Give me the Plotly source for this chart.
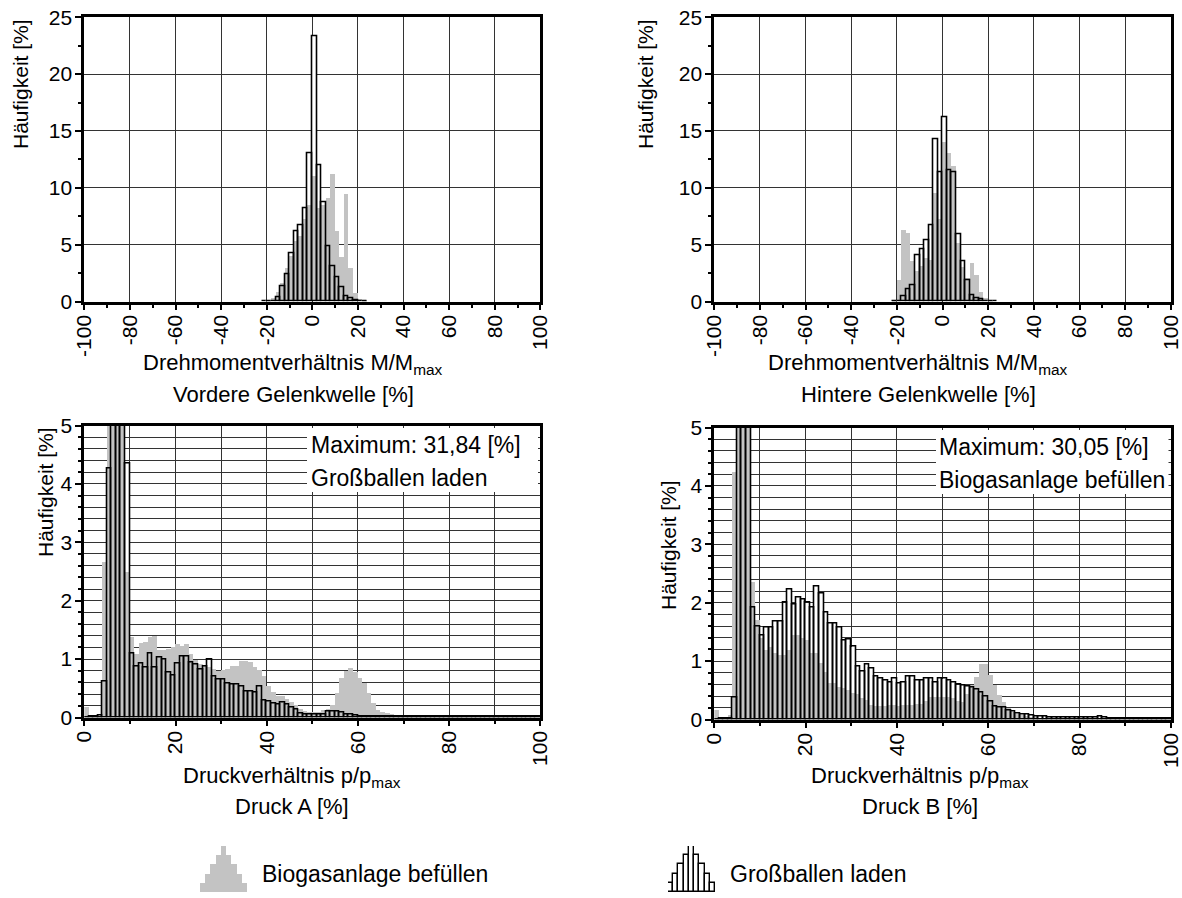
import plotly.graph_objects as go

W, H = 1182, 898

# ---------------- data ----------------
# top panels: bin width 2, centres
top_x = [-21, -19, -17, -15, -13, -11, -9, -7, -5, -3, -1, 1, 3, 5, 7, 9, 11, 13, 15, 17, 19, 21, 23]
tl_gross = [0, 0.0, 0.05, 0.35, 1.3, 2.4, 4.2, 6.2, 6.7, 8.2, 13.0, 23.3, 11.95, 8.7, 4.9, 3.1, 2.1, 1.24, 0.45, 0.25, 0.12, 0.05, 0]
tl_bio = [0, 0.1, 0.3, 0.8, 1.6, 2.9, 4.0, 5.3, 5.7, 7.2, 8.5, 11.0, 8.2, 8.5, 9.1, 11.2, 6.2, 3.9, 9.4, 2.9, 0.7, 0.2, 0.05]
tr_gross = [0, 0.05, 0.5, 1.05, 1.4, 4.1, 4.6, 5.4, 6.7, 14.3, 11.4, 16.2, 11.5, 11.4, 5.9, 3.5, 1.9, 0.55, 0.3, 0.15, 0.05, 0, 0]
tr_bio = [0.1, 1.9, 6.25, 6.0, 3.5, 2.7, 3.1, 3.8, 3.6, 9.5, 7.2, 14.0, 13.0, 11.9, 5.1, 3.0, 2.0, 3.4, 2.3, 0.8, 0.3, 0.1, 0]

# bottom panels: bin width 1, centres 0.5 .. 99.5
bot_x = [k + 0.5 for k in range(100)]
bl_gross = [0, 0.02, 0.02, 0.03, 0.61, 4.26, 14.0, 31.84, 9.5, 4.35,
            1.1, 0.875, 0.92, 0.86, 1.1, 0.85, 1.02, 1.0, 0.77, 0.72,
            0.92, 1.04, 1.04, 0.94, 0.9, 0.82, 0.88, 0.99, 0.7, 0.65,
            0.65, 0.58, 0.57, 0.56, 0.53, 0.44, 0.44, 0.43, 0.53, 0.29,
            0.28, 0.24, 0.22, 0.25, 0.23, 0.17, 0.14, 0.07, 0.05, 0.05,
            0.05, 0.05, 0.06, 0.1, 0.1, 0.1, 0.09, 0.06, 0.06, 0.03,
            0.02, 0.02, 0.02, 0.02, 0.02, 0.02, 0.02, 0.02, 0.02, 0.02,
            0.02, 0.02, 0.02, 0.02, 0.02, 0.02, 0.02, 0.02, 0.02, 0.02,
            0.02, 0.02, 0.02, 0.02, 0.02, 0.02, 0.02, 0.02, 0.02, 0.02,
            0.02, 0.02, 0.02, 0.02, 0.02, 0.02, 0.02, 0.02, 0.02, 0.02]
bl_bio = [0.18, 0.02, 0.02, 0.03, 2.67, 7.0, 20.0, 18.0, 6.0, 2.5,
          1.38, 1.1, 1.29, 1.3, 1.38, 1.4, 1.16, 1.17, 1.19, 1.21,
          1.26, 1.24, 1.26, 1.1, 0.99, 0.93, 0.9, 0.88, 0.84, 0.8,
          0.82, 0.84, 0.89, 0.89, 0.97, 0.98, 0.96, 0.87, 0.82, 0.72,
          0.54, 0.45, 0.38, 0.37, 0.33, 0.27, 0.22, 0.16, 0.12, 0.1,
          0.1, 0.11, 0.13, 0.15, 0.22, 0.42, 0.68, 0.8, 0.86, 0.78,
          0.68, 0.6, 0.42, 0.25, 0.14, 0.1, 0.08, 0.07, 0.06, 0.05,
          0.04, 0.04, 0.04, 0.03, 0.03, 0.03, 0.03, 0.03, 0.02, 0.02,
          0.02, 0.02, 0.02, 0.02, 0.02, 0.02, 0.02, 0.01, 0.01, 0.01,
          0.01, 0.01, 0.01, 0.01, 0.01, 0.01, 0.01, 0.01, 0.01, 0.01]
br_gross = [0, 0.01, 0.01, 0.02, 0.37, 9.0, 15.0, 7.0, 1.91, 1.6,
            1.44, 1.57, 1.57, 1.67, 1.67, 2.0, 2.22, 1.97, 2.09, 2.05,
            2.0, 1.91, 2.27, 2.15, 1.84, 1.65, 1.65, 1.57, 1.36, 1.37,
            1.25, 0.91, 0.83, 0.94, 0.88, 0.74, 0.71, 0.67, 0.64, 0.7,
            0.62, 0.64, 0.73, 0.73, 0.67, 0.66, 0.71, 0.71, 0.63, 0.7,
            0.7, 0.67, 0.64, 0.6, 0.58, 0.57, 0.54, 0.51, 0.46, 0.39,
            0.3, 0.23, 0.21, 0.21, 0.16, 0.13, 0.1, 0.085, 0.08, 0.07,
            0.06, 0.05, 0.05, 0.04, 0.04, 0.04, 0.03, 0.03, 0.03, 0.03,
            0.03, 0.03, 0.03, 0.03, 0.05, 0.03, 0.02, 0.02, 0.02, 0.02,
            0.02, 0.02, 0.02, 0.02, 0.02, 0.02, 0.02, 0.02, 0.02, 0.02]
br_bio = [0.17, 0.02, 0.02, 0.09, 4.25, 30.05, 12.0, 6.0, 2.36, 1.71,
          1.4, 1.2, 1.25, 1.14, 1.12, 1.11, 1.2, 1.45, 1.45, 1.4,
          1.37, 1.14, 1.14, 0.97, 0.83, 0.63, 0.63, 0.57, 0.55, 0.51,
          0.46, 0.45, 0.37, 0.35, 0.25, 0.24, 0.24, 0.24, 0.25, 0.25,
          0.24, 0.25, 0.26, 0.25, 0.27, 0.28, 0.33, 0.4, 0.4, 0.39,
          0.39, 0.39, 0.38, 0.33, 0.3, 0.45, 0.6, 0.74, 0.96, 0.96,
          0.77, 0.6, 0.43, 0.3, 0.2, 0.14, 0.11, 0.09, 0.07, 0.06,
          0.05, 0.04, 0.04, 0.03, 0.03, 0.03, 0.03, 0.02, 0.02, 0.02,
          0.02, 0.02, 0.02, 0.02, 0.02, 0.02, 0.02, 0.01, 0.01, 0.01,
          0.01, 0.01, 0.01, 0.01, 0.01, 0.01, 0.01, 0.01, 0.01, 0.01]

legend_icon = [1, 2, 3, 4, 5, 4, 3, 2, 1]

top_ticks = [-100, -80, -60, -40, -20, 0, 20, 40, 60, 80, 100]
top_ticktext = ["-100", "-80", "-60", "-40", "-20", "0", "20", "40", "60", "80", "100"]
bot_ticks = [0, 20, 40, 60, 80, 100]
bot_ticktext = ["0", "20", "40", "60", "80", "100"]

FONT = "Liberation Sans, Arial, sans-serif"
GRAY = "#c3c3c3"
GRID = "#333333"

# ---------------- geometry (pixels) ----------------
LX = (84.3, 540.3)
RX = (714.3, 1171.0)
TY = (17.3, 301.5)
BLY = (425.5, 717.5)
BRY = (427.5, 719.5)


def dx(p):
    return [p[0] / W, p[1] / W]


def dy(p):
    return [1 - p[1] / H, 1 - p[0] / H]


fig = go.Figure()


def add_panel(xs, gross, bio, width, xa, ya):
    fig.add_trace(go.Bar(x=xs, y=gross, width=width, marker=dict(color="white", line=dict(width=0)),
                         xaxis=xa, yaxis=ya, showlegend=False, hoverinfo="skip"))
    fig.add_trace(go.Bar(x=xs, y=bio, width=width, marker=dict(color=GRAY, line=dict(width=0)),
                         xaxis=xa, yaxis=ya, showlegend=False, name="Biogasanlage befüllen"))
    fig.add_trace(go.Bar(x=xs, y=gross, width=width,
                         marker=dict(color="rgba(0,0,0,0)", line=dict(width=1.6, color="black")),
                         xaxis=xa, yaxis=ya, showlegend=False, name="Großballen laden"))


add_panel(top_x, tl_gross, tl_bio, 2, "x", "y")
add_panel(top_x, tr_gross, tr_bio, 2, "x2", "y2")
add_panel(bot_x, bl_gross, bl_bio, 1, "x3", "y3")
add_panel(bot_x, br_gross, br_bio, 1, "x4", "y4")

# legend icons
icon_x = list(range(1, len(legend_icon) + 1))
fig.add_trace(go.Bar(x=icon_x, y=legend_icon, width=1, marker=dict(color=GRAY, line=dict(width=0)),
                     xaxis="x5", yaxis="y5", showlegend=False, hoverinfo="skip"))
fig.add_trace(go.Bar(x=icon_x, y=legend_icon, width=1,
                     marker=dict(color="white", line=dict(width=1.4, color="black")),
                     xaxis="x6", yaxis="y6", showlegend=False, hoverinfo="skip"))

tickfont = dict(family=FONT, size=21, color="black")


def xaxis(domain, rng, grid_minor, anchor, tickvals, ticktext):
    return dict(domain=domain, range=rng, anchor=anchor, automargin=False,
                tickmode="array", tickvals=tickvals, ticktext=ticktext, tickangle=-90,
                showline=True, linewidth=3, linecolor="black", mirror=True,
                ticks="outside", ticklen=5, tickwidth=2, tickcolor="black", ticklabelstandoff=-3,
                showgrid=True, gridcolor=GRID, gridwidth=1, zeroline=False,
                minor=dict(dtick=10, tick0=0, ticks="outside", ticklen=3, tickwidth=2, tickcolor="black",
                           showgrid=grid_minor, gridcolor=GRID, gridwidth=1),
                tickfont=tickfont, fixedrange=True)


def yaxis(domain, rng, dtick, minor_dtick, grid_minor, anchor):
    return dict(domain=domain, range=rng, anchor=anchor, automargin=False, tickmode="linear", tick0=0, dtick=dtick,
                showline=True, linewidth=3, linecolor="black", mirror=True,
                ticks="outside", ticklen=6, tickwidth=2, tickcolor="black", ticklabelstandoff=-1,
                showgrid=True, gridcolor=GRID, gridwidth=1, zeroline=False,
                minor=dict(dtick=minor_dtick, tick0=0, ticks="outside", ticklen=3, tickwidth=2, tickcolor="black",
                           showgrid=grid_minor, gridcolor=GRID, gridwidth=1),
                tickfont=tickfont, fixedrange=True)


hidden = dict(visible=False, fixedrange=True, automargin=False)

fig.update_layout(
    width=W, height=H, margin=dict(l=0, r=0, t=0, b=0, pad=0, autoexpand=False),
    paper_bgcolor="white", plot_bgcolor="white",
    barmode="overlay", bargap=0, showlegend=False,
    font=dict(family=FONT, color="black"),
    xaxis=xaxis(dx(LX), [-100, 100], False, "y", top_ticks, top_ticktext),
    yaxis=yaxis(dy(TY), [0, 25], 5, 2.5, False, "x"),
    xaxis2=xaxis(dx(RX), [-100, 100], False, "y2", top_ticks, top_ticktext),
    yaxis2=yaxis(dy(TY), [0, 25], 5, 2.5, False, "x2"),
    xaxis3=xaxis(dx(LX), [0, 100], True, "y3", bot_ticks, bot_ticktext),
    yaxis3=yaxis(dy(BLY), [0, 5], 1, 0.2, True, "x3"),
    xaxis4=xaxis(dx(RX), [0, 100], True, "y4", bot_ticks, bot_ticktext),
    yaxis4=yaxis(dy(BRY), [0, 5], 1, 0.2, True, "x4"),
    xaxis5=dict(domain=[200 / W, 247 / W], range=[0.5, len(legend_icon) + 0.5], anchor="y5", **hidden),
    yaxis5=dict(domain=[1 - 892 / H, 1 - 846 / H], range=[0, 5], anchor="x5", **hidden),
    xaxis6=dict(domain=[668 / W, 715 / W], range=[0.5, len(legend_icon) + 0.5], anchor="y6", **hidden),
    yaxis6=dict(domain=[1 - 892 / H, 1 - 846 / H], range=[0, 5], anchor="x6", **hidden),
)

# white info boxes
for (x0, x1, y0, y1) in [(307, 538, 428, 492), (936, 1168.5, 430, 494)]:
    fig.add_shape(type="rect", xref="paper", yref="paper", x0=x0 / W, x1=x1 / W,
                  y0=1 - y1 / H, y1=1 - y0 / H, fillcolor="white", line=dict(width=0), layer="above")

ann = []


def text(x, y, s, size=22, xanchor="center", angle=0):
    ann.append(dict(x=x / W, y=1 - y / H, xref="paper", yref="paper", text=s, showarrow=False,
                    xanchor=xanchor, yanchor="middle", textangle=angle,
                    font=dict(family=FONT, size=size, color="black")))


# box texts
text(309, 445, "Maximum: 31,84 [%]", size=23, xanchor="left")
text(309, 478, "Großballen laden", size=23, xanchor="left")
text(937, 447, "Maximum: 30,05 [%]", size=23, xanchor="left")
text(937, 480, "Biogasanlage befüllen", size=23, xanchor="left")

# axis titles
text(293, 364, "Drehmomentverhältnis M/M<sub>max</sub>")
text(293, 394, "Vordere Gelenkwelle [%]")
text(918, 364, "Drehmomentverhältnis M/M<sub>max</sub>")
text(918, 394, "Hintere Gelenkwelle [%]")
text(292, 777, "Druckverhältnis p/p<sub>max</sub>")
text(292, 806, "Druck A [%]")
text(920, 777, "Druckverhältnis p/p<sub>max</sub>")
text(920, 806, "Druck B [%]")

text(20, 84, "Häufigkeit [%]", size=21, angle=-90)
text(645, 84, "Häufigkeit [%]", size=21, angle=-90)
text(45, 492, "Häufigkeit [%]", size=21, angle=-90)
text(668, 545, "Häufigkeit [%]", size=21, angle=-90)

# legend text
text(260, 874, "Biogasanlage befüllen", size=23, xanchor="left")
text(728, 874, "Großballen laden", size=23, xanchor="left")

fig.update_layout(annotations=ann)

fig.write_html("out.html")
